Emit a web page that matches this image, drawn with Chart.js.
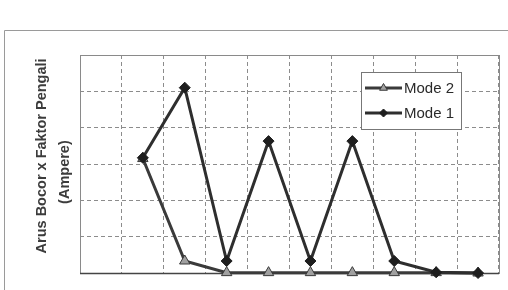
<!DOCTYPE html>
<html><head><meta charset="utf-8">
<script src="https://cdn.jsdelivr.net/npm/chart.js@4.4.0/dist/chart.umd.min.js"></script>
<style>html,body{margin:0;padding:0;background:#fff;}#wrap{width:508px;height:290px;}</style>
</head><body><div id="wrap"><canvas id="c" width="508" height="290"></canvas></div>
<script>
const categories = ['', '1', '2', '3', '4', '5', '6', '7', '8', '9'];
const mode2 = [null, 3.15, 0.33, 0.01, 0.01, 0.01, 0.01, 0.01, 0.01, 0];
const mode1 = [null, 3.17, 5.1, 0.33, 3.63, 0.33, 3.63, 0.33, 0.02, 0];
const yMin = 0, yMax = 6, yStep = 1;
const yTitle = ['    Arus Bocor x Faktor Pengali', '(Ampere)    '];
const seriesNames = ['Mode 2', 'Mode 1'];

const framePlugin = {
  id: 'frame',
  beforeDraw(chart) {
    const ctx = chart.ctx;
    ctx.save();
    ctx.fillStyle = '#fff';
    ctx.fillRect(0, 0, chart.width, chart.height);
    ctx.strokeStyle = '#9a9a9a';
    ctx.lineWidth = 1;
    ctx.beginPath();
    ctx.moveTo(4.5, chart.height + 2);
    ctx.lineTo(4.5, 30.5);
    ctx.lineTo(chart.width + 2, 30.5);
    ctx.stroke();
    ctx.restore();
  },
  beforeDatasetsDraw(chart) {
    const a = chart.chartArea, ctx = chart.ctx;
    ctx.save();
    ctx.setLineDash([]);
    ctx.strokeStyle = '#8a8a8a';
    ctx.lineWidth = 1;
    ctx.strokeRect(Math.round(a.left) + 0.5, Math.round(a.top) + 0.5, Math.round(a.right - a.left), Math.round(a.bottom - a.top));
    ctx.strokeStyle = '#444';
    ctx.lineWidth = 1.5;
    ctx.beginPath();
    ctx.moveTo(a.left, Math.round(a.bottom) + 0.5);
    ctx.lineTo(a.right, Math.round(a.bottom) + 0.5);
    ctx.stroke();
    ctx.restore();
  }
};

const legendPlugin = {
  id: 'customLegend',
  afterDraw(chart) {
    const ctx = chart.ctx;
    const bx = 361, by = 72, bw = 100, bh = 57;
    ctx.save();
    ctx.setLineDash([]);
    ctx.fillStyle = '#fff';
    ctx.fillRect(bx, by, bw, bh);
    ctx.strokeStyle = '#777';
    ctx.lineWidth = 1;
    ctx.strokeRect(bx + 0.5, by + 0.5, bw, bh);
    const rows = [
      {ds: chart.data.datasets[0], y: 88},
      {ds: chart.data.datasets[1], y: 113}
    ];
    rows.forEach(r => {
      ctx.strokeStyle = r.ds.borderColor;
      ctx.lineWidth = r.ds.borderWidth;
      ctx.beginPath();
      ctx.moveTo(365, r.y);
      ctx.lineTo(402, r.y);
      ctx.stroke();
      ctx.fillStyle = r.ds.pointBackgroundColor;
      ctx.strokeStyle = r.ds.pointBorderColor;
      ctx.lineWidth = r.ds.pointBorderWidth;
      Chart.helpers.drawPoint(ctx, {pointStyle: r.ds.pointStyle, radius: r.ds.pointRadius - 1.5, borderWidth: r.ds.pointBorderWidth, rotation: 0}, 383.5, r.y);
      ctx.fillStyle = '#2a2a2a';
      ctx.font = '15px "Liberation Sans", Arial, sans-serif';
      ctx.textBaseline = 'middle';
      ctx.textAlign = 'left';
      ctx.fillText(r.ds.label, 404, r.y + 1);
    });
    ctx.restore();
  }
};

new Chart(document.getElementById('c'), {
  type: 'line',
  data: {
    labels: categories,
    datasets: [
      {
        label: seriesNames[0], data: mode2, order: 1,
        borderColor: '#3a3a3a', borderWidth: 3,
        pointStyle: 'triangle', pointRadius: 6, pointBorderWidth: 1,
        pointBackgroundColor: '#a0a0a0', pointBorderColor: '#3a3a3a',
        tension: 0, clip: false
      },
      {
        label: seriesNames[1], data: mode1, order: 0,
        borderColor: '#2e2e2e', borderWidth: 3,
        pointStyle: 'rectRot', pointRadius: 5.5, pointBorderWidth: 1,
        pointBackgroundColor: '#1e1e1e', pointBorderColor: '#1e1e1e',
        tension: 0, clip: false
      }
    ]
  },
  options: {
    responsive: false,
    animation: false,
    devicePixelRatio: 1,
    layout: {padding: {left: 0, top: 55, right: 9, bottom: 0}},
    plugins: {legend: {display: false}, tooltip: {enabled: false}},
    scales: {
      x: {
        type: 'category',
        offset: true,
        grid: {offset: true, color: '#8c8c8c', lineWidth: 1, drawTicks: false, borderDash: [4, 3]},
        border: {display: true, color: 'rgba(0,0,0,0)', width: 0, dash: [4, 3]},
        ticks: {display: false},
        afterFit(s) { s.height = 17; }
      },
      y: {
        min: yMin, max: yMax,
        ticks: {display: false, stepSize: yStep},
        grid: {color: '#8c8c8c', lineWidth: 1, drawTicks: false, borderDash: [4, 3]},
        border: {display: true, color: 'rgba(0,0,0,0)', width: 0, dash: [4, 3]},
        title: {
          display: true, text: yTitle, color: '#3c3c3c',
          font: {family: '"Liberation Sans", Arial, sans-serif', size: 14.5, weight: 'bold', lineHeight: '23px'},
          padding: {top: 30.5, bottom: 0}
        },
        afterFit(s) { s.width = 80; }
      }
    }
  },
  plugins: [framePlugin, legendPlugin]
});
</script>
</body></html>
